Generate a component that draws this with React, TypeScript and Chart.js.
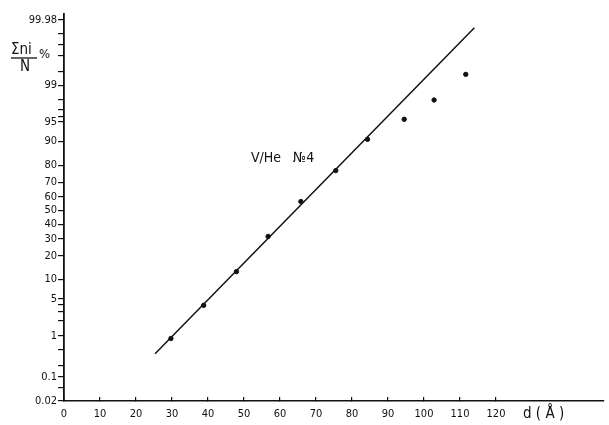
import React, { useEffect, useRef } from "react";
import { Chart, registerables, LinearScale } from "chart.js";

// ---- data ----
const diameters = [29.7, 38.8, 47.9, 56.7, 65.8, 75.5, 84.3, 94.5, 102.8, 111.6];
const cumulativePct = [0.87, 3.9, 12.8, 31.5, 56.6, 77.1, 90.7, 95.5, 98.0, 99.43];
const fitD = [25.3, 114];
const fitPct = [0.39, 99.966];
const xTickValues = [0, 10, 20, 30, 40, 50, 60, 70, 80, 90, 100, 110, 120];
const yMajorTicks = [99.98, 99, 95, 90, 80, 70, 60, 50, 40, 30, 20, 10, 5, 1, 0.1, 0.02];
const yMinorTicks = [99.95, 99.9, 99.8, 99.5, 98, 97, 96, 4, 3, 2, 0.5, 0.2, 0.05];
const yMin = 0.02;
const yMax = 99.987;
const xMax = 150;

// ---- probability helpers ----
function normInv(p: number): number {
  const a = [-39.69683028665376, 220.9460984245205, -275.9285104469687, 138.357751867269, -30.66479806614716, 2.506628277459239];
  const b = [-54.47609879822406, 161.5858368580409, -155.6989798598866, 66.80131188771972, -13.28068155288572];
  const c = [-0.007784894002430293, -0.3223964580411365, -2.400758277161838, -2.549732539343734, 4.374664141464968, 2.938163982698783];
  const d = [0.007784695709041462, 0.3224671290700398, 2.445134137142996, 3.754408661907416];
  const pl = 0.02425;
  let q, r;
  if (p < pl) {
    q = Math.sqrt(-2 * Math.log(p));
    return (((((c[0] * q + c[1]) * q + c[2]) * q + c[3]) * q + c[4]) * q + c[5]) / ((((d[0] * q + d[1]) * q + d[2]) * q + d[3]) * q + 1);
  } else if (p <= 1 - pl) {
    q = p - 0.5;
    r = q * q;
    return ((((((a[0] * r + a[1]) * r + a[2]) * r + a[3]) * r + a[4]) * r + a[5]) * q) / (((((b[0] * r + b[1]) * r + b[2]) * r + b[3]) * r + b[4]) * r + 1);
  }
  q = Math.sqrt(-2 * Math.log(1 - p));
  return -(((((c[0] * q + c[1]) * q + c[2]) * q + c[3]) * q + c[4]) * q + c[5]) / ((((d[0] * q + d[1]) * q + d[2]) * q + d[3]) * q + 1);
}
const zOf = (pct: number) => normInv(Math.min(Math.max(pct / 100, 1e-9), 1 - 1e-9));
function cdfPct(z: number): number {
  const x = Math.abs(z) / Math.SQRT2;
  const t = 1 / (1 + 0.3275911 * x);
  const y = 1 - (((((1.061405429 * t - 1.453152027) * t) + 1.421413741) * t - 0.284496736) * t + 0.254829592) * t * Math.exp(-x * x);
  const erf = z >= 0 ? y : -y;
  return 50 * (1 + erf);
}

class ProbitScale extends (LinearScale as any) {
  static id = "probit";
  static defaults = {};
  determineDataLimits() {
    this.min = zOf(this.options.min);
    this.max = zOf(this.options.max);
  }
  buildTicks() {
    return [...yMajorTicks, ...yMinorTicks].map((v) => ({ value: v }));
  }
  getPixelForValue(v: number) {
    if (v === null || v === undefined) return NaN;
    return this.getPixelForDecimal((zOf(v) - this.min) / (this.max - this.min));
  }
  getValueForPixel(p: number) {
    return cdfPct(this.min + this.getDecimalForPixel(p) * (this.max - this.min));
  }
}

Chart.register(...registerables, ProbitScale as any);

const FONT = "'DejaVu Sans Condensed', 'Liberation Sans', sans-serif";

const annotations = {
  id: "annotations",
  afterDraw(chart: any) {
    const ctx = chart.ctx;
    ctx.save();
    ctx.fillStyle = "#111";
    ctx.strokeStyle = "#111";
    ctx.textBaseline = "middle";
    // in-plot label
    ctx.font = `14px ${FONT}`;
    ctx.textAlign = "left";
    ctx.fillText("V/He   №4", 251, 158);
    // y-axis title
    ctx.font = `15px ${FONT}`;
    ctx.textAlign = "left";
    ctx.fillText("Σni", 11, 50);
    ctx.lineWidth = 1.3;
    ctx.beginPath();
    ctx.moveTo(11, 58);
    ctx.lineTo(37, 58);
    ctx.stroke();
    ctx.textAlign = "center";
    ctx.fillText("N", 25, 67);
    ctx.font = `13px ${FONT}`;
    ctx.textAlign = "left";
    ctx.fillText("%", 39, 55);
    // x-axis title
    ctx.font = `15px ${FONT}`;
    ctx.fillText("d ( Å )", 523, 414);
    ctx.restore();
  },
};

export default function App() {
  const ref = useRef<HTMLCanvasElement>(null);
  useEffect(() => {
    if (!ref.current) return;
    const chart = new Chart(ref.current, {
      type: "scatter",
      data: {
        datasets: [
          {
            label: "measured",
            data: diameters.map((d, i) => ({ x: d, y: cumulativePct[i] })),
            backgroundColor: "#111",
            borderColor: "#111",
            pointRadius: 2.2,
            showLine: false,
          },
          {
            label: "fit",
            data: fitD.map((d, i) => ({ x: d, y: fitPct[i] })),
            borderColor: "#111",
            borderWidth: 1.5,
            pointRadius: 0,
            showLine: true,
          },
        ],
      },
      plugins: [annotations],
      options: {
        animation: false,
        responsive: false,
        events: [],
        layout: { padding: { top: 14, right: 0, left: 0, bottom: 0 } },
        plugins: { legend: { display: false }, tooltip: { enabled: false } },
        scales: {
          x: {
            type: "linear",
            min: 0,
            max: xMax,
            afterFit: (s: any) => {
              s.height = 24;
            },
            afterBuildTicks: (s: any) => {
              s.ticks = xTickValues.map((v) => ({ value: v }));
            },
            grid: { drawOnChartArea: false, tickLength: -4, color: "#111", lineWidth: 1.2 },
            border: { color: "#111", width: 1.4 },
            ticks: {
              autoSkip: false,
              maxRotation: 0,
              padding: 11,
              color: "#111",
              font: { family: FONT, size: 11 },
              callback: (v: any) => String(v),
            },
          },
          y: {
            type: "probit" as any,
            min: yMin,
            max: yMax,
            afterFit: (s: any) => {
              s.width = 64;
            },
            grid: { drawOnChartArea: false, tickLength: 6, color: "#111", lineWidth: 1.2 },
            border: { color: "#111", width: 1.8 },
            ticks: {
              autoSkip: false,
              padding: 1,
              color: "#111",
              font: { family: FONT, size: 11 },
              callback: (v: any) => (yMajorTicks.includes(v) ? String(v) : ""),
            },
          },
        },
      } as any,
    });
    return () => chart.destroy();
  }, []);
  return (
    <div style={{ position: "absolute", left: 0, top: 0, width: 609, height: 425, background: "#fff" }}>
      <canvas ref={ref} width={609} height={425} style={{ width: 609, height: 425 }} />
    </div>
  );
}
